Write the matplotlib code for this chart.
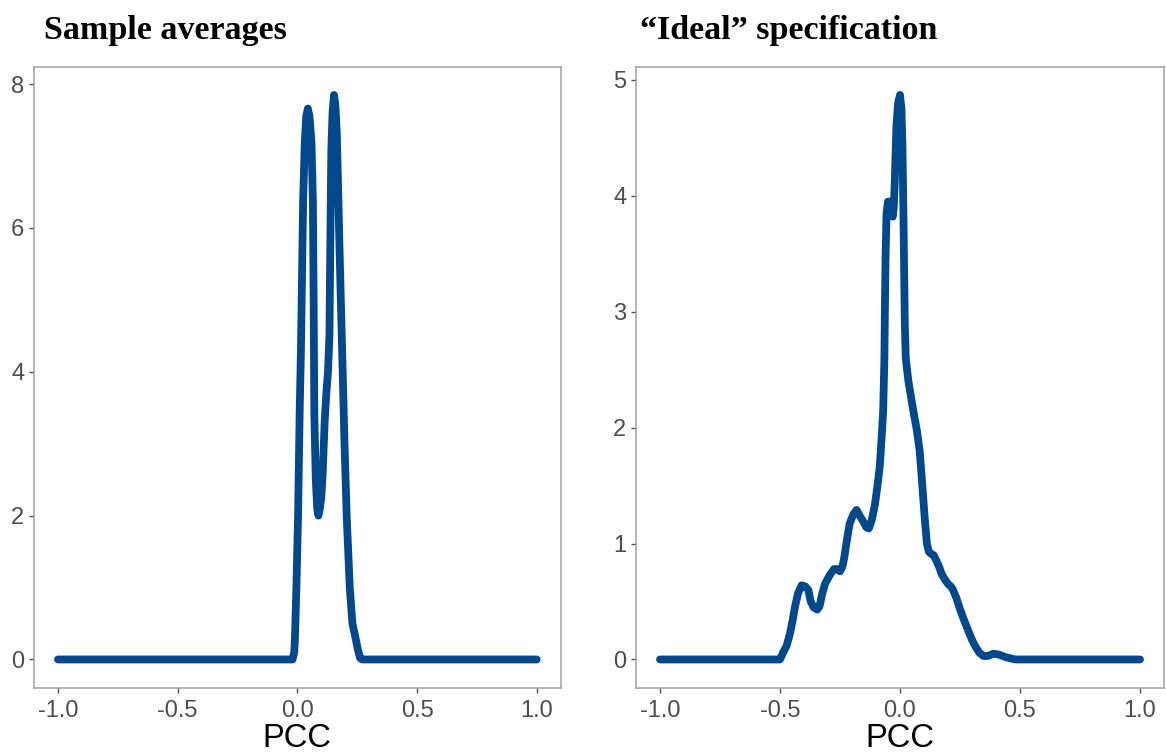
import matplotlib
matplotlib.use("Agg")
import matplotlib.pyplot as plt

# Density of PCC values, sample averages
pcc_avg = [-1.0, -0.02, -0.013, -0.01, -0.004, 0.003, 0.01, 0.015, 0.024, 0.031,
           0.037, 0.044, 0.051, 0.059, 0.065, 0.068, 0.071, 0.077, 0.083, 0.088,
           0.094, 0.1, 0.106, 0.114, 0.121, 0.128, 0.134, 0.139, 0.142, 0.147,
           0.153, 0.159, 0.165, 0.17, 0.177, 0.188, 0.197, 0.206, 0.219, 0.23,
           0.24, 0.252, 0.262, 0.27, 1.0]
dens_avg = [0.0, 0.0, 0.1, 0.3, 1.0, 2.0, 3.5, 4.3, 6.36, 7.19,
            7.55, 7.66, 7.55, 7.19, 6.36, 5.0, 3.4, 2.5, 2.1, 2.0,
            2.1, 2.25, 2.6, 3.3, 3.7, 4.0, 4.5, 6.2, 7.1, 7.6,
            7.85, 7.7, 7.3, 6.6, 5.6, 4.17, 3.0, 2.0, 1.0, 0.5,
            0.35, 0.15, 0.02, 0.0, 0.0]

# Density of PCC values, "ideal" specification
pcc_ideal = [-1.0, -0.5, -0.487, -0.472, -0.459, -0.448, -0.438, -0.425, -0.41, -0.395,
             -0.382, -0.372, -0.36, -0.345, -0.335, -0.325, -0.313, -0.292, -0.275, -0.262,
             -0.25, -0.24, -0.233, -0.222, -0.21, -0.195, -0.181, -0.165, -0.153, -0.14,
             -0.13, -0.118, -0.105, -0.095, -0.084, -0.077, -0.07, -0.065, -0.063, -0.06,
             -0.056, -0.05, -0.043, -0.036, -0.03, -0.026, -0.022, -0.015, -0.008, 0.0,
             0.006, 0.01, 0.014, 0.017, 0.02, 0.024, 0.035, 0.055, 0.07, 0.082,
             0.093, 0.103, 0.112, 0.12, 0.13, 0.14, 0.152, 0.163, 0.173, 0.19,
             0.201, 0.212, 0.221, 0.235, 0.249, 0.265, 0.284, 0.3, 0.312, 0.33,
             0.347, 0.365, 0.39, 0.415, 0.44, 0.46, 0.48, 1.0]
dens_ideal = [0.0, 0.0, 0.06, 0.12, 0.22, 0.33, 0.45, 0.57, 0.64, 0.63,
              0.6, 0.5, 0.45, 0.43, 0.46, 0.56, 0.65, 0.73, 0.78, 0.78,
              0.76, 0.8, 0.87, 1.02, 1.17, 1.25, 1.29, 1.23, 1.19, 1.14,
              1.13, 1.2, 1.33, 1.48, 1.67, 1.9, 2.15, 2.6, 3.0, 3.5,
              3.85, 3.95, 3.95, 3.88, 3.82, 3.9, 4.1, 4.6, 4.8, 4.87,
              4.75, 4.45, 3.9, 3.4, 2.9, 2.6, 2.4, 2.15, 1.98, 1.8,
              1.5, 1.22, 1.0, 0.93, 0.91, 0.9, 0.85, 0.8, 0.74, 0.68,
              0.65, 0.63, 0.6, 0.53, 0.44, 0.35, 0.25, 0.17, 0.12, 0.06,
              0.03, 0.03, 0.05, 0.04, 0.02, 0.01, 0.0, 0.0]

titles = ["Sample averages", "\u201cIdeal\u201d specification"]
xticks = [-1.0, -0.5, 0.0, 0.5, 1.0]
yticks_avg = [0, 2, 4, 6, 8]
yticks_ideal = [0, 1, 2, 3, 4, 5]

LINE = "#02488A"
W, H = 1166, 753

fig = plt.figure(figsize=(W / 100, H / 100), dpi=100)
fig.patch.set_facecolor("white")


def panel(rect_px, x, y, yticks, title, title_x):
    l, t, r, b = rect_px
    ax = fig.add_axes([l / W, 1 - b / H, (r - l) / W, (b - t) / H])
    ax.plot(x, y, color=LINE, lw=5.6, solid_capstyle="round",
            solid_joinstyle="round")
    ymax = max(y)
    pad = 0.05 * ymax
    ax.set_ylim(-pad, ymax + pad)
    ax.set_xlim(-1.1, 1.1)
    ax.set_xticks(xticks)
    ax.set_xticklabels([f"{v:.1f}" for v in xticks])
    ax.set_yticks(yticks)
    ax.set_yticklabels([str(v) for v in yticks])
    for s in ax.spines.values():
        s.set_color("#A0A0A0")
        s.set_linewidth(1.1)
    ax.tick_params(axis="both", direction="out", length=3.5, width=1.0,
                   color="#4D4D4D", labelcolor="#4D4D4D", labelsize=17)
    ax.tick_params(axis="x", pad=5)
    ax.tick_params(axis="y", pad=3.5)
    for lab in ax.get_xticklabels() + ax.get_yticklabels():
        lab.set_fontfamily("Liberation Sans")
    ax.set_xlabel("PCC", fontsize=23.5, family="Liberation Sans",
                  color="black", labelpad=1)
    fig.text(title_x / W, 1 - 38.5 / H, title, family="Liberation Serif",
             fontweight="bold", fontsize=24.5, va="baseline", ha="left",
             color="black")
    return ax


panel((34, 66.7, 560.7, 687.7), pcc_avg, dens_avg, yticks_avg, titles[0], 44)
panel((636, 66.7, 1164, 687.7), pcc_ideal, dens_ideal, yticks_ideal, titles[1], 640)

fig.savefig("out.png", dpi=100, facecolor="white")
